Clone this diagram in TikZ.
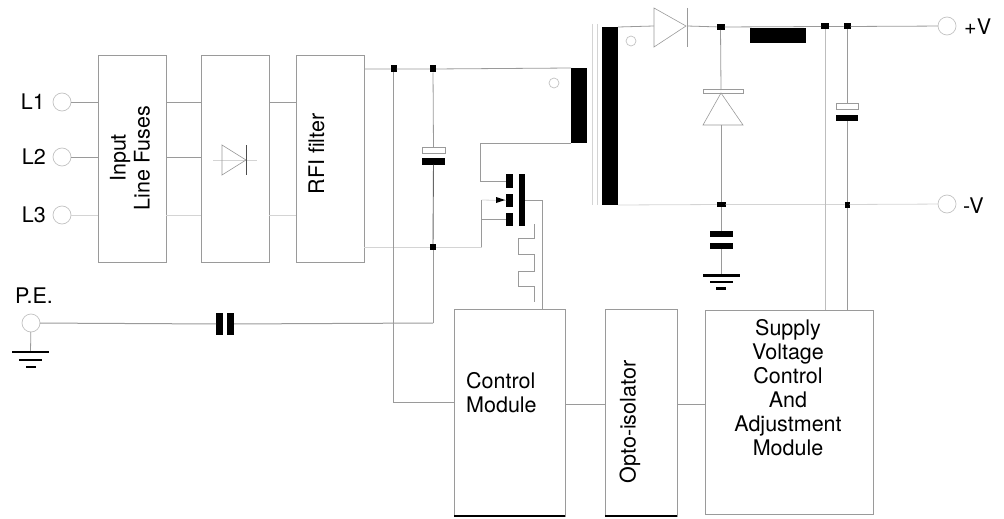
\documentclass[tikz,border=0pt]{standalone}
\usepackage{fontspec}
\setmainfont{TeX Gyre Heros}
\definecolor{wirec}{HTML}{9A9A9A}
\definecolor{lightc}{HTML}{D4D4D4}
\tikzset{
  wire/.style={draw=wirec, line width=0.8pt},
  faint/.style={draw=lightc, line width=0.8pt},
  dark/.style={draw=black, line width=1.1pt},
  box/.style={draw=wirec, line width=0.8pt, fill=white, inner sep=0pt, outer sep=0pt, minimum width=#1},
  term/.style={circle, draw=lightc!70!wirec, line width=0.7pt, fill=white, inner sep=0pt, outer sep=0pt, minimum size=#1},
  blk/.style 2 args={fill=black, inner sep=0pt, outer sep=0pt, minimum width=#1, minimum height=#2},
  hol/.style 2 args={draw=wirec, line width=0.6pt, fill=white, inner sep=0pt, outer sep=0pt, minimum width=#1, minimum height=#2},
  lab/.style={inner sep=0pt, font=\fontsize{21.5}{24}\selectfont, align=center},
}
\begin{document}
\begin{tikzpicture}[x=1pt,y=-1pt]
  \useasboundingbox (0,0) rectangle (1004,519);

  % blocks
  \node[box=68pt, minimum height=207pt] (fuses) at (132,158.5) {};
  \node[box=68pt, minimum height=207pt] (rect) at (235,158.5) {};
  \node[box=68pt, minimum height=207pt] (rfi) at (330,158.5) {};
  \node[box=111pt, minimum height=207pt] (ctrl) at (509.5,412.5) {};
  \node[box=72pt, minimum height=207pt] (opto) at (641,412.5) {};
  \node[box=168pt, minimum height=204pt] (sup) at (789,412) {};
  \node[lab, rotate=90] (fusestxt) at (130,158) {Input\\Line Fuses};
  \node[lab, rotate=90] (rfitxt) at (316.5,154) {RFI filter};
  \node[lab, rotate=90] (optotxt) at (630,422) {Opto-isolator};
  \node[lab, align=left, anchor=west] (ctrltxt) at (466,393) {Control\\Module};
  \node[lab] (suptxt) at (788,388) {Supply\\Voltage\\Control\\And\\Adjustment\\Module};
  \draw[dark] (ctrl.south west) -- (ctrl.south east);
  \draw[dark] (opto.south west) -- (opto.south east);

  % input terminals
  \node[term=18pt] (L1) at (62,102) {};
  \node[term=18pt] (L2) at (62,157) {};
  \node[term=18pt] (L3) at (62,215) {};
  \node[term=18pt] (PE) at (31,323) {};
  \node[lab, anchor=east] (L1txt) at (45,102) {L1};
  \node[lab, anchor=east] (L2txt) at (46,157) {L2};
  \node[lab, anchor=east] (L3txt) at (46,215) {L3};
  \node[lab] (PEtxt) at (34,296) {P.E.};
  \draw[wire] (L1) -- (fuses.west |- L1);
  \draw[wire] (L2) -- (fuses.west |- L2);
  \draw[faint] (L3) -- (fuses.west |- L3);
  \draw[wire] (fuses.east |- L1) -- (rect.west |- L1);
  \draw[wire] (fuses.east |- L2) -- (rect.west |- L2);
  \draw[faint] (fuses.east |- L3) -- (rect.west |- L3);
  \draw[wire] (rect.east |- L1) -- (rfi.west |- L1);
  \draw[faint] (rect.east |- L3) -- (rfi.west |- L3);

  % rectifier symbol
  \draw[faint] (213,160) -- (257,160);
  \draw[wire, line width=0.6pt] (222,145) -- (222,175) -- (246,160) -- cycle;
  \draw[black!70, line width=1pt] (246.5,145) -- (246.5,175);

  % junctions
  \node[blk={6pt}{7pt}] (j1) at (393.5,69) {};
  \node[blk={6pt}{7pt}] (j2) at (433,69) {};
  \node[blk={6pt}{6pt}] (j3) at (433,247) {};
  \node[blk={8pt}{6pt}] (j4) at (720.5,27) {};
  \node[blk={8pt}{6pt}] (j5) at (825,26.5) {};
  \node[blk={7pt}{6pt}] (j6) at (847,26.5) {};
  \node[blk={9pt}{5pt}] (j7) at (721,204.5) {};
  \node[blk={5pt}{6pt}] (j8) at (847,204.5) {};

  % primary side
  \node[blk={16pt}{75pt}] (pri) at (579,105.5) {};
  \node[term=10pt] (pridot) at (554,83) {};
  \coordinate (rfihi) at (rfi.east |- j1);
  \coordinate (rfilo) at (rfi.east |- j3);
  \draw[wire] (rfihi) -- (j1) -- (j2) -- (pri.north west);
  \draw[faint] (rfilo) -- (j3);
  \node[hol={23pt}{6pt}] (c1a) at (433.5,150) {};
  \node[blk={23pt}{6.5pt}] (c1b) at (433.5,161.5) {};
  \draw[wire] (j2) -- (c1a);
  \draw[dark, draw=black!60, line width=0.9pt] (c1b) -- (j3);
  \node[blk={7pt}{22pt}] (c2a) at (219.5,324) {};
  \node[blk={7pt}{22pt}] (c2b) at (230.5,324) {};
  \coordinate (petap) at (433,323);
  \draw[wire, line width=1pt] (PE) -- (c2a);
  \draw[wire, line width=1pt] (c2b) -- (petap);
  \draw[wire] (j3) -- (petap);
  \coordinate (ctlin) at (ctrl.west |- 0,402);
  \draw[wire] (j1) -- (j1 |- ctlin) -- (ctlin);
  \draw[wire] (ctrl.east |- 0,404) -- (opto.west |- 0,404);
  \draw[wire] (opto.east |- 0,404) -- (sup.west |- 0,404);

  % switch
  \node[blk={7pt}{14pt}] (g1) at (509.5,181) {};
  \node[blk={7pt}{13pt}] (g2) at (509.5,200.5) {};
  \node[blk={7pt}{13pt}] (g3) at (509.5,219.5) {};
  \node[blk={6pt}{52pt}] (chan) at (522,200) {};
  \coordinate (gt) at (480.5,143);
  \coordinate (srca) at (481.5,200);
  \coordinate (srcb) at (481.5,219.5);
  \coordinate (srcc) at (481.5,247);
  \coordinate (drna) at (542,200);
  \coordinate (drnb) at (542,309);
  \draw[wire] (g1.west) -| (gt) -- (pri.south west);
  \draw[faint] (srca) -- (g2.west);
  \draw[wire] (srcb) -- (g3.west);
  \draw[wire] (srca) -- (srcb) -- (srcc);
  \draw[faint] (j3) -- (srcc);
  \draw[wire] (chan.east |- drna) -- (drna) -- (drnb);
  \fill[black] (496,197) -- (496,203) -- (505,200) -- cycle;
  \draw[wire] (534.5,224) -- (534.5,238) -- (518,238) -- (518,254) -- (534.5,254)
    -- (534.5,271) -- (518,271) -- (518,286) -- (534.5,286) -- (534.5,302);

  % transformer
  \draw[faint] (592,24) -- (592,205);
  \draw[faint] (597,24) -- (597,205);
  \node[blk={16pt}{178pt}] (sec) at (610,116) {};
  \node[term=10pt] (secdot) at (631,41) {};

  % output side
  \node[term=18pt] (pos) at (947,26) {};
  \node[term=18pt] (neg) at (947,204) {};
  \node[lab, anchor=west] (postxt) at (964,27) {+V};
  \node[lab, anchor=west] (negtxt) at (963,206) {-V};
  \coordinate (dan) at (654,26);
  \coordinate (dca) at (687,26);
  \draw[wire] (sec.north east) -- (dan);
  \draw[wire, line width=0.6pt] (654,8) -- (654,47) -- (686,26) -- cycle;
  \draw[wire] (687,8) -- (687,47);
  \node[blk={56pt}{15pt}] (choke) at (778,35.5) {};
  \draw[wire] (dca) -- (j4) -- (j5) -- (j6) -- (pos);
  \draw[faint] (sec.south east) -- (j7) -- (j8) -- (neg);

  \node[hol={40pt}{3.5pt}] (d2bar) at (723,91.5) {};
  \draw[wire, line width=0.6pt] (721,93) -- (703,125) -- (743,125) -- cycle;
  \coordinate (d2top) at (721,90);
  \coordinate (d2bot) at (721,125);
  \draw[wire] (j4) -- (d2top);
  \draw[wire] (d2bot) -- (j7);

  \node[blk={23pt}{6pt}] (c3a) at (721,234) {};
  \node[blk={23pt}{6pt}] (c3b) at (721,246) {};
  \node[blk={37pt}{2.5pt}] (g1a) at (721,275.5) {};
  \node[blk={23pt}{2.5pt}] (g1b) at (721,282) {};
  \node[blk={10pt}{2.5pt}] (g1c) at (721,288.5) {};
  \draw[wire] (j7) -- (c3a);
  \draw[wire] (c3b) -- (g1a);

  \node[hol={22pt}{6pt}] (c4a) at (847,106) {};
  \node[blk={22pt}{6pt}] (c4b) at (847,118) {};
  \draw[wire] (j6) -- (c4a);
  \draw[wire] (c4b) -- (j8);
  \draw[wire] (j8) -- (j8 |- sup.north);
  \draw[faint, draw=lightc!60!wirec] (j5) -- (j5 |- sup.north);

  % earth at P.E.
  \node[blk={37pt}{2.5pt}] (g2a) at (30.5,352) {};
  \node[blk={23pt}{2.5pt}] (g2b) at (30.5,360) {};
  \node[blk={10pt}{2.5pt}] (g2c) at (30.5,367) {};
  \draw[wire] (PE) -- (g2a);
\end{tikzpicture}
\end{document}
